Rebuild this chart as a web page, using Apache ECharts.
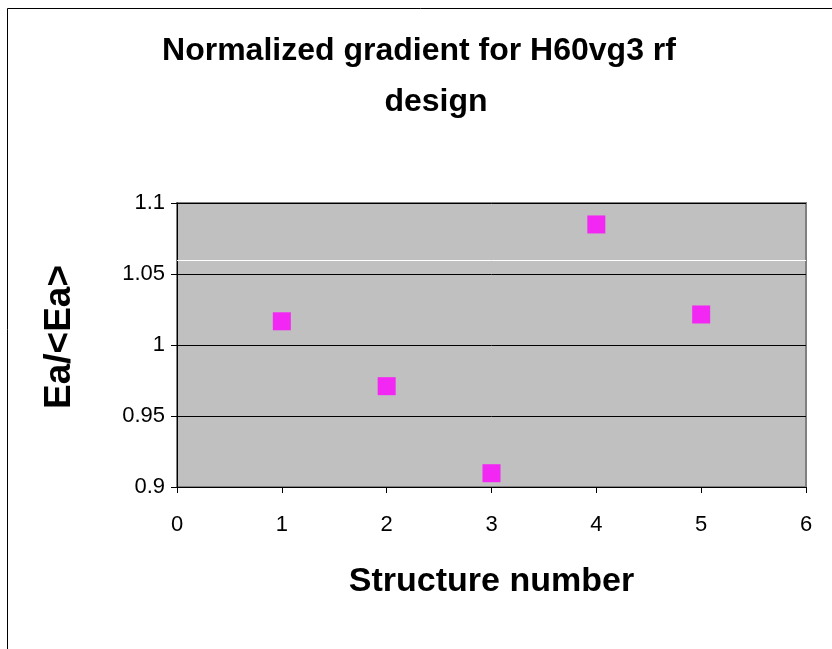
<!DOCTYPE html>
<html>
<head>
<meta charset="utf-8">
<script src="https://cdn.jsdelivr.net/npm/echarts@6/dist/echarts.min.js"></script>
<style>
  html, body { margin: 0; padding: 0; background: #fff; }
  #chart { width: 832px; height: 649px; }
</style>
</head>
<body>
<div id="chart"></div>
<script>
// structure number vs normalized gradient
var structures = [1, 2, 3, 4, 5];
var ratios = [1.0167, 0.9710, 0.9097, 1.0849, 1.0215];
var xTicks = [0, 1, 2, 3, 4, 5, 6];
var yTicks = [0.9, 0.95, 1, 1.05, 1.1];
var whiteLineAt = 1.06;

var font = '"Liberation Sans", Arial, sans-serif';
var chart = echarts.init(document.getElementById('chart'));

var titleStyle = {
    fontFamily: font,
    fontWeight: 'bold',
    fontSize: 32,
    color: '#000'
};

var option = {
    animation: false,
    backgroundColor: '#fff',
    title: [{
        text: 'Normalized gradient for H60vg3 rf',
        left: 414,
        textAlign: 'center',
        top: 30,
        textStyle: titleStyle
    }, {
        text: 'design',
        left: 431,
        textAlign: 'center',
        top: 81,
        textStyle: titleStyle
    }],
    graphic: [{
        type: 'rect',
        shape: { x: 7.5, y: 8.5, width: 900, height: 700 },
        style: { fill: 'none', stroke: '#000', lineWidth: 1 },
        silent: true
    }],
    grid: {
        left: 177,
        right: 26,
        top: 203,
        bottom: 162,
        show: true,
        backgroundColor: '#c0c0c0',
        borderColor: '#808080',
        borderWidth: 2
    },
    xAxis: {
        type: 'value',
        min: xTicks[0],
        max: xTicks[xTicks.length - 1],
        interval: 1,
        name: 'Structure number',
        nameLocation: 'middle',
        nameGap: 78,
        nameTextStyle: { fontFamily: font, fontWeight: 'bold', fontSize: 34, color: '#000' },
        axisLine: { onZero: false, lineStyle: { color: '#000', width: 1 } },
        axisTick: { inside: false, length: 6, lineStyle: { color: '#000' } },
        axisLabel: { fontFamily: font, fontSize: 22, color: '#000', margin: 27 },
        splitLine: { show: false }
    },
    yAxis: {
        type: 'value',
        min: yTicks[0],
        max: yTicks[yTicks.length - 1],
        interval: 0.05,
        name: 'Ea/<Ea>',
        nameLocation: 'middle',
        nameGap: 99,
        nameTextStyle: {
            fontFamily: font, fontWeight: 'bold', fontSize: 37, color: '#000',
            padding: [0, 0, 0, 16]
        },
        axisLine: { show: true, lineStyle: { color: '#000', width: 1 } },
        axisTick: { show: true, length: 6, lineStyle: { color: '#000' } },
        axisLabel: {
            fontFamily: font, fontSize: 22, color: '#000', margin: 12,
            formatter: function (v) { return String(+v.toFixed(2)); }
        },
        splitLine: { show: true, lineStyle: { color: '#000', width: 1 } }
    },
    series: [{
        type: 'scatter',
        symbol: 'rect',
        symbolSize: 18,
        itemStyle: { color: '#ff00ff' },
        data: structures.map(function (s, i) { return [s, ratios[i]]; }),
        markLine: {
            silent: true,
            symbol: 'none',
            label: { show: false },
            lineStyle: { color: '#fff', type: 'solid', width: 1 },
            data: [{ yAxis: whiteLineAt }]
        }
    }]
};

chart.setOption(option);
</script>
</body>
</html>
